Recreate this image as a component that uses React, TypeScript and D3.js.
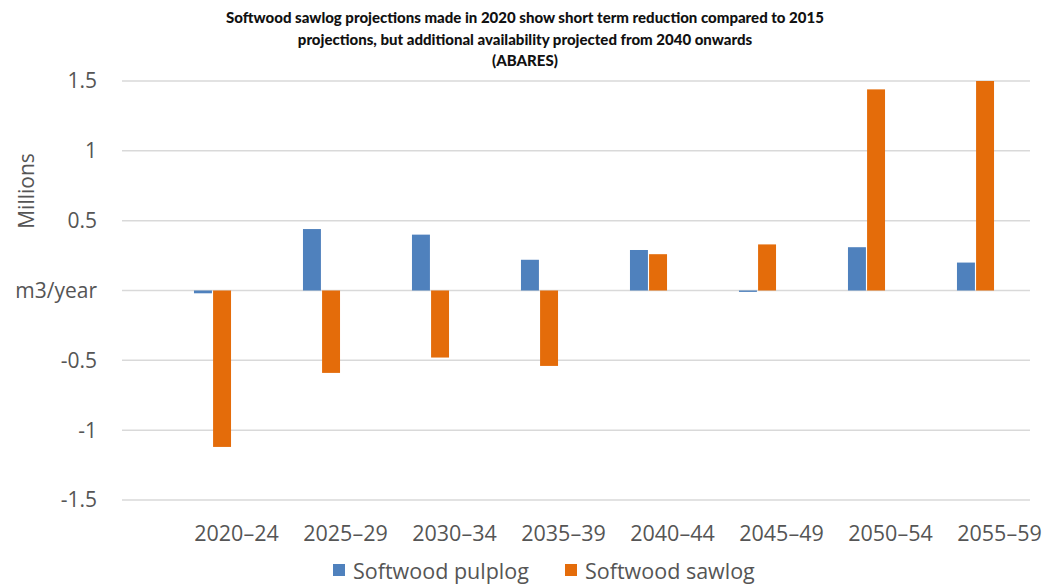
import { useMemo } from "react";
import * as d3 from "d3";

const periods = ["2020–24", "2025–29", "2030–34", "2035–39", "2040–44", "2045–49", "2050–54", "2055–59"];
const pulplog = [-0.02, 0.44, 0.40, 0.22, 0.29, -0.01, 0.31, 0.20];
const sawlog = [-1.12, -0.59, -0.48, -0.54, 0.26, 0.33, 1.44, 1.50];
const yTicks = [1.5, 1, 0.5, 0, -0.5, -1, -1.5];
const seriesNames = ["Softwood pulplog", "Softwood sawlog"];
const seriesColors = ["#4f81bd", "#e46c0a"];
const titleLines = [
    "Softwood sawlog projections made in 2020 show short term reduction compared to 2015",
    "projections, but additional availability projected from 2040 onwards",
    "(ABARES)",
];

const W = 1048;
const H = 585;
const gridLeft = 122;
const gridRight = 1030;
const bandLeft = 158;
const top = 81;
const bottom = 500;
const font = "'Open Sans', sans-serif";
const grey = "#555";

export default function App() {
    const y = useMemo(() => d3.scaleLinear().domain([-1.5, 1.5]).range([bottom, top]), []);
    const x = useMemo(() => d3.scaleBand().domain(periods).range([bandLeft, gridRight]).paddingInner(0.66).paddingOuter(0.33), []);
    const inner = useMemo(() => d3.scaleBand().domain(seriesNames).range([0, x.bandwidth()]).paddingInner(0.06), [x]);

    const series = [pulplog, sawlog];

    return (
        <svg width={W} height={H} style={{ position: "absolute", left: 0, top: 0, background: "#fff" }}>
            {titleLines.map((t, i) => (
                <text key={i} x={525} y={23 + i * 21.5} textAnchor="middle"
                    style={{ fontFamily: "Lato, sans-serif", fontWeight: 900, fontSize: "15px", fill: "#111" }}>
                    {t}
                </text>
            ))}

            {yTicks.map(t => (
                <g key={t}>
                    <line x1={gridLeft} x2={gridRight} y1={y(t)} y2={y(t)} stroke="#d9d9d9" strokeWidth={1.5} />
                    <text x={97} y={y(t)} dy="0.35em" textAnchor="end"
                        style={{ fontFamily: font, fontSize: "21px", fill: grey }}>
                        {t === 0 ? "m3/year" : String(t)}
                    </text>
                </g>
            ))}

            <text transform={`translate(34, 191) rotate(-90)`} textAnchor="middle"
                style={{ fontFamily: font, fontSize: "21px", fill: grey }}>
                Millions
            </text>

            {periods.map((p, i) => (
                <g key={p}>
                    {series.map((s, k) => {
                        const v = s[i];
                        const x0 = (x(p) ?? 0) + (inner(seriesNames[k]) ?? 0);
                        return (
                            <rect key={k} x={x0} width={inner.bandwidth()}
                                y={Math.min(y(v), y(0))} height={Math.abs(y(v) - y(0))}
                                fill={seriesColors[k]} />
                        );
                    })}
                    <text x={(x(p) ?? 0) + x.bandwidth() / 2 + 24} y={533} dy="0.35em" textAnchor="middle"
                        style={{ fontFamily: font, fontSize: "21.5px", fill: grey }}>
                        {p}
                    </text>
                </g>
            ))}

            {seriesNames.map((n, k) => {
                const lx = [333, 565][k];
                return (
                    <g key={n}>
                        <rect x={lx} y={564} width={12} height={12} fill={seriesColors[k]} />
                        <text x={lx + 20} y={571} dy="0.35em"
                            style={{ fontFamily: font, fontSize: "21.5px", fill: grey }}>
                            {n}
                        </text>
                    </g>
                );
            })}
        </svg>
    );
}
